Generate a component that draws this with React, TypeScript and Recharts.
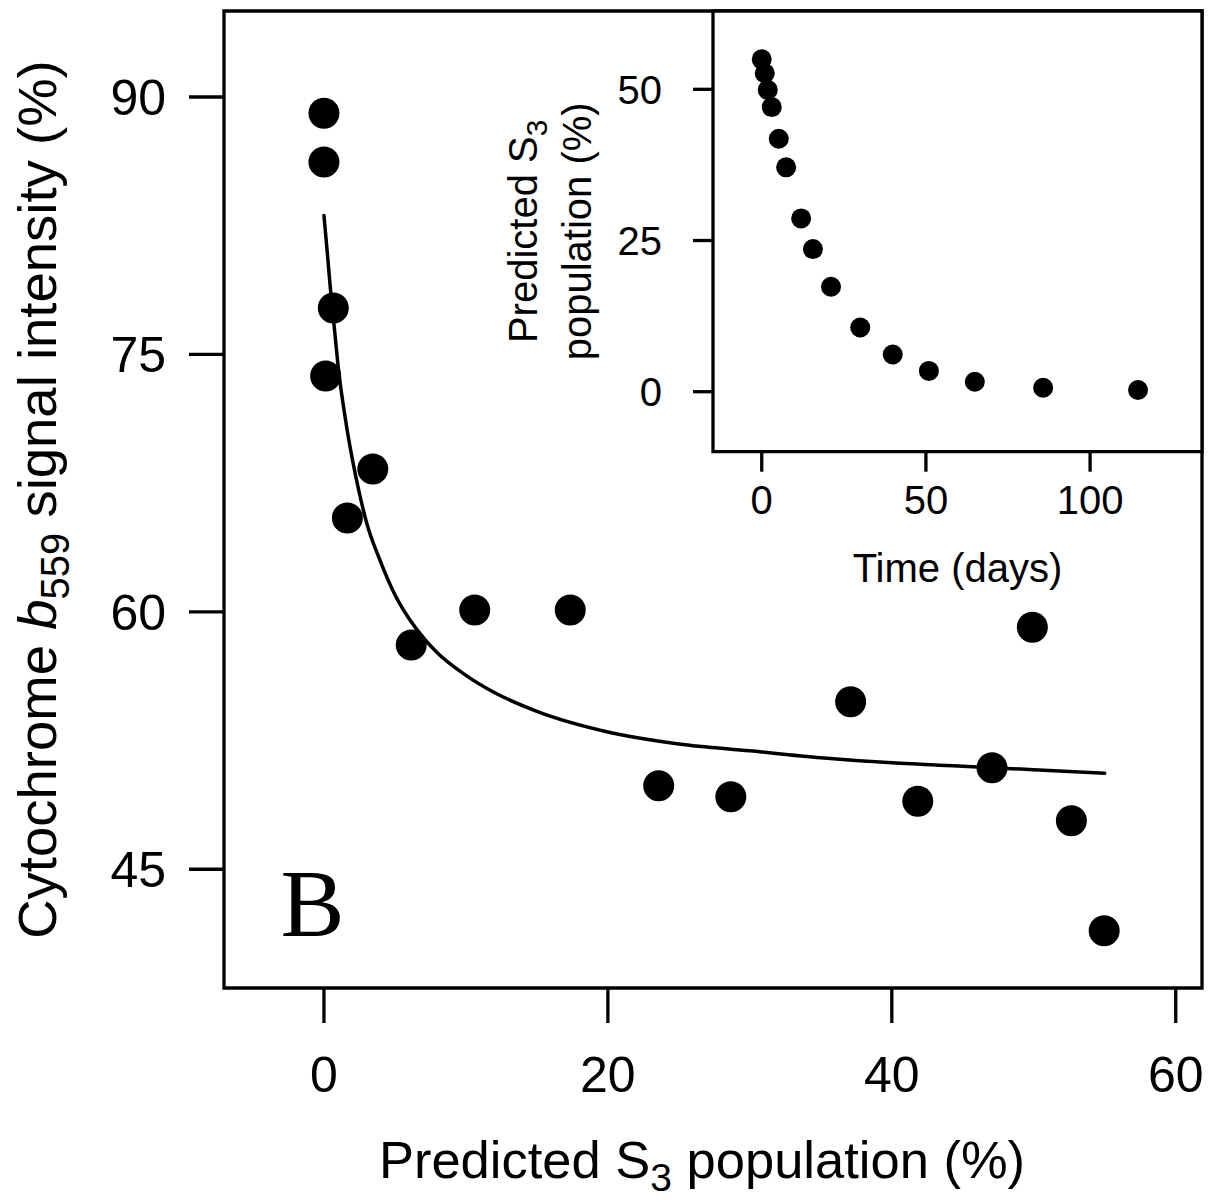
import React from 'react';
import { ComposedChart, Scatter, Line, XAxis, YAxis, ReferenceArea, ReferenceDot } from 'recharts';

// ---------- data ----------
// main panel: predicted S3 population (%) vs cytochrome b559 signal intensity (%)
const mainX = [0, 0, 0.66, 0.12, 3.44, 1.65, 6.15, 10.62, 17.35, 23.58, 28.66, 37.1, 41.83, 47.06, 49.9, 52.65, 54.96];
const mainY = [89.05, 86.21, 77.7, 73.74, 68.32, 65.47, 58.07, 60.11, 60.11, 49.87, 49.22, 54.76, 48.96, 50.91, 59.1, 47.83, 41.42];

// fitted curve
const fitX = [0, 0.25, 0.5, 0.75, 1, 1.5, 2, 2.5, 3, 4, 5, 6, 7, 8, 10, 12, 15, 20, 25, 30, 35, 40, 45, 50, 55];
const fitY = [83.1, 80.8, 78.4, 76.4, 74.3, 71.3, 68.9, 66.9, 65.2, 62.9, 61.0, 59.6, 58.5, 57.6, 56.3, 55.3, 54.2, 53.0, 52.3, 51.9, 51.5, 51.2, 51.0, 50.8, 50.6];

// inset: time (days) vs predicted S3 population (%)
const insetDays = [0, 0.92, 1.83, 3.05, 5.19, 7.43, 12.0, 15.6, 21.1, 30.0, 39.9, 50.9, 64.9, 85.7, 114.6];
const insetS3 = [54.96, 52.65, 49.9, 47.06, 41.83, 37.1, 28.66, 23.58, 17.35, 10.62, 6.15, 3.44, 1.65, 0.66, 0.28];

const mainXTicks = [0, 20, 40, 60];
const mainYTicks = [45, 60, 75, 90];
const insetXTicks = [0, 50, 100];
const insetYTicks = [0, 25, 50];

const mainXDomain: [number, number] = [-7.04, 61.85];
const mainYDomain: [number, number] = [38.08, 95.01];
const insetXDomain: [number, number] = [-14.84, 134.08];
const insetYDomain: [number, number] = [-9.92, 62.95];

const panelLabel = 'B';
const panelLabelPos = { x: -0.8, y: 43.1 };

// ---------- derived tables ----------
const mainPoints = mainX.map((x, i) => ({ x, y: mainY[i] }));
const fitPoints = fitX.map((x, i) => ({ x, y: fitY[i] }));
const insetPoints = insetDays.map((x, i) => ({ x, y: insetS3[i] }));

// ---------- styles ----------
const FONT = '"Liberation Sans", Arial, Helvetica, sans-serif';
const SERIF = '"Liberation Serif", "Times New Roman", serif';
const INK = '#000';

const W = 1218;
const H = 1202;
const M = { left: 224, top: 11, right: 1202, bottom: 988 };

const MainXTitle = () => (
  <text x={702} y={1178} textAnchor="middle" fontSize={52.5} fontFamily={FONT} fill={INK}>
    Predicted S
    <tspan dy={13} fontSize={39}>3</tspan>
    <tspan dy={-13}> population (%)</tspan>
  </text>
);

const MainYTitle = () => {
  const cx = 56;
  const cy = (M.top + M.bottom) / 2;
  return (
    <text
      x={cx}
      y={cy}
      transform={`rotate(-90, ${cx}, ${cy})`}
      textAnchor="middle"
      fontSize={54.5}
      fontFamily={FONT}
      fill={INK}
    >
      Cytochrome <tspan fontStyle="italic">b</tspan>
      <tspan dy={13} fontSize={40}>559</tspan>
      <tspan dy={-13}> signal intensity (%)</tspan>
    </text>
  );
};

// inset chart placed in its own frame
const IN_LEFT = 490;
const IN_W = 728;
const IN_H = 620;
const IM = { left: 223, top: 11, right: 712, bottom: 451.7 };

const InsetXTitle = () => (
  <text x={(IM.left + IM.right) / 2} y={582} textAnchor="middle" fontSize={40} fontFamily={FONT} fill={INK}>
    Time (days)
  </text>
);

const InsetYTitle = () => {
  const cy = (IM.top + IM.bottom) / 2;
  const x1 = 47;
  const x2 = 101;
  return (
    <g>
      <text x={x1} y={cy} transform={`rotate(-90, ${x1}, ${cy})`} textAnchor="middle" fontSize={40} fontFamily={FONT} fill={INK}>
        Predicted S
        <tspan dy={10} fontSize={30}>3</tspan>
      </text>
      <text x={x2} y={cy} transform={`rotate(-90, ${x2}, ${cy})`} textAnchor="middle" fontSize={40} fontFamily={FONT} fill={INK}>
        population (%)
      </text>
    </g>
  );
};

const bigDot = (r: number) => (p: any) => <circle cx={p.cx} cy={p.cy} r={r} fill={INK} />;

export default function App() {
  return (
    <div style={{ position: 'absolute', left: 0, top: 0, width: W, height: H, background: '#fff' }}>
      <div style={{ position: 'absolute', left: 0, top: 0 }}>
        <ComposedChart width={W} height={H} margin={{ top: M.top, right: W - M.right, bottom: 0, left: 0 }}>
          <XAxis
            type="number"
            dataKey="x"
            domain={mainXDomain}
            allowDataOverflow
            ticks={mainXTicks}
            interval={0}
            height={H - M.bottom}
            axisLine={false}
            tickSize={35}
            tickMargin={33}
            tickLine={{ stroke: INK, strokeWidth: 3.3 }}
            tick={{ fill: INK, fontSize: 50, fontFamily: FONT }}
            label={{ content: () => <MainXTitle /> }}
          />
          <YAxis
            type="number"
            dataKey="y"
            domain={mainYDomain}
            allowDataOverflow
            ticks={mainYTicks}
            interval={0}
            width={M.left}
            axisLine={false}
            tickSize={35}
            tickMargin={23}
            tickLine={{ stroke: INK, strokeWidth: 3.3 }}
            tick={{ fill: INK, fontSize: 50, fontFamily: FONT }}
            label={{ content: () => <MainYTitle /> }}
          />
          <ReferenceArea
            x1={mainXDomain[0]}
            x2={mainXDomain[1]}
            y1={mainYDomain[0]}
            y2={mainYDomain[1]}
            fill="none"
            fillOpacity={0}
            stroke={INK}
            strokeWidth={3.3}
            ifOverflow="visible"
          />
          <Line
            data={fitPoints}
            dataKey="y"
            type="monotone"
            stroke={INK}
            strokeWidth={3.5}
            strokeLinecap="round"
            dot={false}
            activeDot={false}
            isAnimationActive={false}
          />
          <Scatter data={mainPoints} dataKey="y" fill={INK} shape={bigDot(15.5)} isAnimationActive={false} />
          <ReferenceDot
            x={panelLabelPos.x}
            y={panelLabelPos.y}
            r={0}
            fill="none"
            stroke="none"
            ifOverflow="visible"
            label={{ value: panelLabel, position: 'center', fontSize: 96, fontFamily: SERIF, fill: INK }}
          />
        </ComposedChart>
      </div>
      <div style={{ position: 'absolute', left: IN_LEFT, top: 0 }}>
        <ComposedChart width={IN_W} height={IN_H} margin={{ top: IM.top, right: IN_W - IM.right, bottom: 0, left: 0 }}>
          <XAxis
            type="number"
            dataKey="x"
            domain={insetXDomain}
            allowDataOverflow
            ticks={insetXTicks}
            interval={0}
            height={IN_H - IM.bottom}
            axisLine={false}
            tickSize={20}
            tickMargin={14}
            tickLine={{ stroke: INK, strokeWidth: 3.3 }}
            tick={{ fill: INK, fontSize: 40, fontFamily: FONT }}
            label={{ content: () => <InsetXTitle /> }}
          />
          <YAxis
            type="number"
            dataKey="y"
            domain={insetYDomain}
            allowDataOverflow
            ticks={insetYTicks}
            interval={0}
            width={IM.left}
            axisLine={false}
            tickSize={20}
            tickMargin={31}
            tickLine={{ stroke: INK, strokeWidth: 3.3 }}
            tick={{ fill: INK, fontSize: 40, fontFamily: FONT }}
            label={{ content: () => <InsetYTitle /> }}
          />
          <ReferenceArea
            x1={insetXDomain[0]}
            x2={insetXDomain[1]}
            y1={insetYDomain[0]}
            y2={insetYDomain[1]}
            fill="#fff"
            fillOpacity={1}
            stroke={INK}
            strokeWidth={3.3}
            ifOverflow="visible"
          />
          <Scatter data={insetPoints} dataKey="y" fill={INK} shape={bigDot(10)} isAnimationActive={false} />
        </ComposedChart>
      </div>
    </div>
  );
}
